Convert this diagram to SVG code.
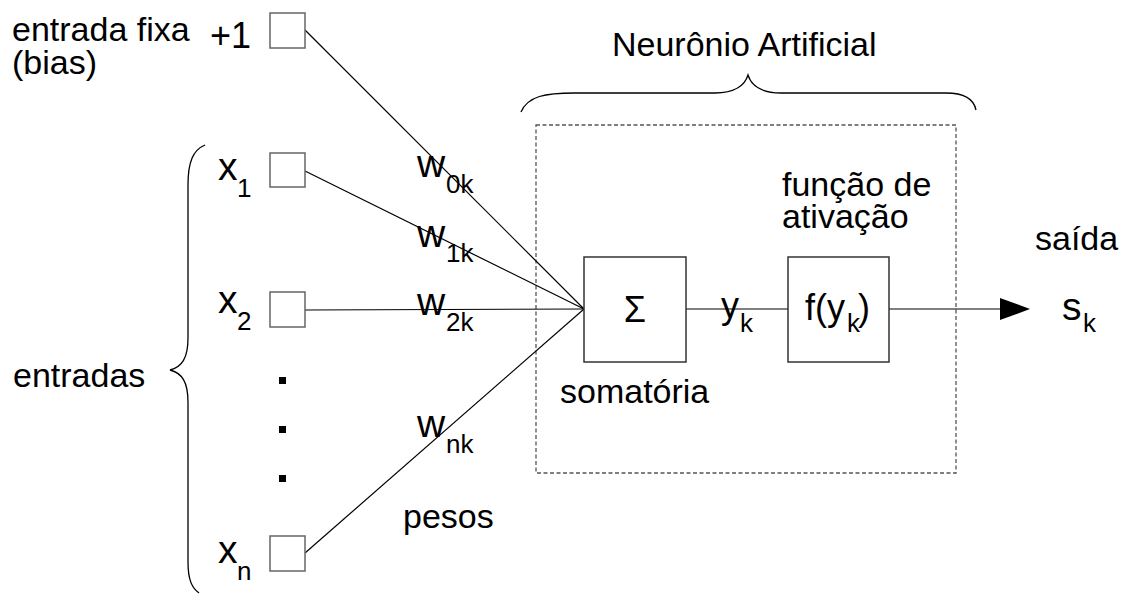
<svg xmlns="http://www.w3.org/2000/svg" width="1124" height="594" viewBox="0 0 1124 594">
<style>
text{font-family:"Liberation Sans",Arial,sans-serif;fill:#000}
.lbl{font-size:34px}
.mid{font-size:36px}
.big{font-size:39px}
.sub{font-size:26px}
.in{fill:#fff;stroke:#666;stroke-width:1.5}
.blk{fill:#fff;stroke:#333;stroke-width:1.5}
.ln{stroke:#000;stroke-width:1.2;fill:none}
.brace{stroke:#000;stroke-width:1.3;fill:none}
</style>
<rect width="1124" height="594" fill="#fff"/>
<g id="neuron-frame">
<rect x="536" y="125" width="420" height="348" fill="none" stroke="#555" stroke-width="1.3" stroke-dasharray="4,2.5"/>
<path class="brace" d="M521,112 C528,96 545,93 575,93 L715,93 C735,93 745,85 748,75 C751,85 761,93 781,93 L946,93 C966,93 974,100 976,110"/>
<text class="lbl" x="612" y="56">Neurônio Artificial</text>
</g>
<g id="inputs-brace">
<path class="brace" d="M205,145 C193,150 188,162 188,185 L188,338 C188,358 182,367 170,370 C182,373 188,382 188,402 L188,562 C188,580 192,588 199,593"/>
<text class="lbl" x="13" y="387">entradas</text>
</g>
<g id="connectors">
<line class="ln" x1="305" y1="30" x2="584" y2="309"/>
<line class="ln" x1="305" y1="171" x2="584" y2="309"/>
<line class="ln" x1="305" y1="310" x2="584" y2="309"/>
<line class="ln" x1="305" y1="553" x2="584" y2="309"/>
<line class="ln" x1="686" y1="309" x2="788" y2="309"/>
<line class="ln" x1="889" y1="309" x2="1002" y2="309"/>
<polygon points="1000,298 1030,309 1000,320" fill="#000"/>
</g>
<g id="bias">
<text class="lbl" x="12" y="41">entrada fixa<tspan x="12" y="74">(bias)</tspan></text>
<text class="mid" x="210" y="48">+1</text>
<rect class="in" x="270" y="13" width="35" height="35"/>
</g>
<g id="x1">
<text class="big" x="218" y="180">x</text><text class="sub" x="237" y="197">1</text>
<rect class="in" x="270" y="153" width="35" height="34"/>
</g>
<g id="x2">
<text class="big" x="218" y="313">x</text><text class="sub" x="237" y="330">2</text>
<rect class="in" x="270" y="292" width="35" height="35"/>
</g>
<g id="dots">
<rect x="279" y="377" width="7" height="7"/>
<rect x="279" y="426" width="7" height="7"/>
<rect x="279" y="475" width="7" height="7"/>
</g>
<g id="xn">
<text class="big" x="218" y="563">x</text><text class="sub" x="237" y="580">n</text>
<rect class="in" x="270" y="536" width="35" height="35"/>
</g>
<g id="weights">
<text class="big" x="417" y="177">w</text><text class="sub" x="446" y="193">0k</text>
<text class="big" x="417" y="247">w</text><text class="sub" x="446" y="262">1k</text>
<text class="big" x="417" y="315">w</text><text class="sub" x="446" y="331">2k</text>
<text class="big" x="417" y="437">w</text><text class="sub" x="446" y="453">nk</text>
<text class="lbl" x="403" y="528">pesos</text>
</g>
<g id="sum">
<rect class="blk" x="584" y="257" width="102" height="105"/>
<text x="635" y="322" font-size="36" text-anchor="middle">Σ</text>
<text class="lbl" x="560" y="403">somatória</text>
</g>
<g id="yk">
<text class="mid" x="721" y="318">y</text><text class="sub" x="740" y="332">k</text>
</g>
<g id="activation">
<rect class="blk" x="788" y="257" width="101" height="105"/>
<text class="mid" x="805" y="320">f(y</text><text class="sub" x="847" y="332">k</text><text class="mid" x="858" y="320">)</text>
<text class="lbl" x="782" y="196">função de<tspan x="782" y="228">ativação</tspan></text>
</g>
<g id="output">
<text class="lbl" x="1035" y="250">saída</text>
<text class="big" x="1062" y="320">s</text><text class="sub" x="1083" y="332">k</text>
</g>
</svg>
